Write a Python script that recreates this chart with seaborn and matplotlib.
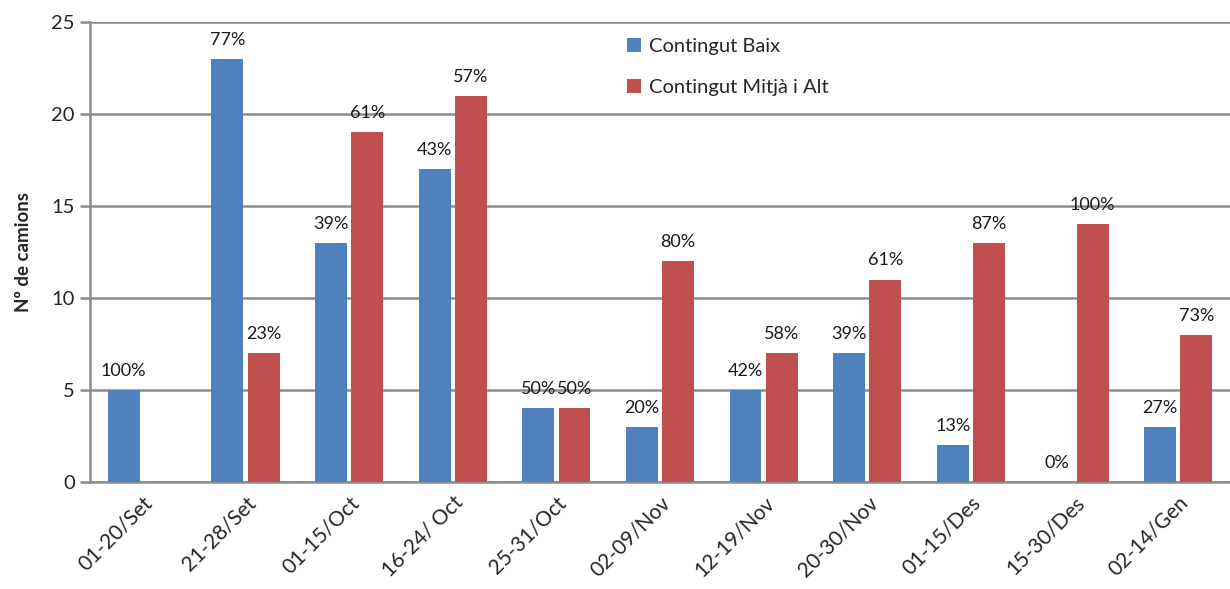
import numpy as np
import pandas as pd
import matplotlib
matplotlib.use("Agg")
import matplotlib.pyplot as plt
import seaborn as sns

categories = ["01-20/Set", "21-28/Set", "01-15/Oct", "16-24/ Oct", "25-31/Oct",
              "02-09/Nov", "12-19/Nov", "20-30/Nov", "01-15/Des", "15-30/Des", "02-14/Gen"]
baix = [5, 23, 13, 17, 4, 3, 5, 7, 2, 0, 3]
mitja_alt = [np.nan, 7, 19, 21, 4, 12, 7, 11, 13, 14, 8]
baix_pct = ["100%", "77%", "39%", "43%", "50%", "20%", "42%", "39%", "13%", "0%", "27%"]
mitja_pct = ["", "23%", "61%", "57%", "50%", "80%", "58%", "61%", "87%", "100%", "73%"]
series_names = ["Contingut Baix", "Contingut Mitjà i Alt"]
colors = ["#4F81BD", "#C0504D"]

df = pd.DataFrame({
    "cat": categories * 2,
    "val": baix + mitja_alt,
    "serie": [series_names[0]] * len(categories) + [series_names[1]] * len(categories),
})

sns.set_style("white")
plt.rcParams["font.family"] = ["Lato", "DejaVu Sans"]

fig = plt.figure(figsize=(12.3, 5.89), dpi=100)
ax = fig.add_axes([0.0732, 0.1817, 0.9268, 0.7809])

sns.barplot(data=df, x="cat", y="val", hue="serie", palette=colors, saturation=1,
            order=categories, hue_order=series_names, width=0.7, gap=0.12,
            ax=ax, zorder=3, edgecolor="none")

for cont, labs in zip(ax.containers, [baix_pct, mitja_pct]):
    for bar in cont:
        h = bar.get_height()
        xc = bar.get_x() + bar.get_width() / 2
        idx = int(round(xc))
        lab = labs[idx]
        if lab == "" or np.isnan(h):
            continue
        ax.annotate(lab, (xc, h), xytext=(0, 8), textcoords="offset points",
                    ha="center", va="bottom", fontsize=13, color="#1a1a1a")

ax.set_ylim(0, 25)
ax.set_xlim(-0.5, len(categories) - 0.5)
ax.set_yticks([0, 5, 10, 15, 20, 25])
ax.yaxis.grid(True, color="#8c8c8c", linewidth=1.8, zorder=0)
ax.set_axisbelow(True)
for s in ["top", "right"]:
    ax.spines[s].set_visible(False)
for s in ["left", "bottom"]:
    ax.spines[s].set_color("#8c8c8c")
    ax.spines[s].set_linewidth(1.8)
ax.tick_params(axis="y", which="both", left=True, length=7, width=1.8, color="#8c8c8c",
               labelsize=14.5, pad=4)
ax.tick_params(axis="x", bottom=False, labelsize=15, pad=4)
plt.setp(ax.get_xticklabels(), rotation=45, ha="right", rotation_mode="anchor")
ax.set_xlabel("")
ax.set_ylabel("Nº de camions", fontsize=13.5, fontweight="bold", labelpad=14)

ax.legend(title=None, frameon=False, loc="upper left", bbox_to_anchor=(0.455, 1.005),
          fontsize=14.5, handlelength=0.7, handleheight=0.7, handletextpad=0.4,
          labelspacing=1.2)

fig.savefig("out.png", dpi=100)
